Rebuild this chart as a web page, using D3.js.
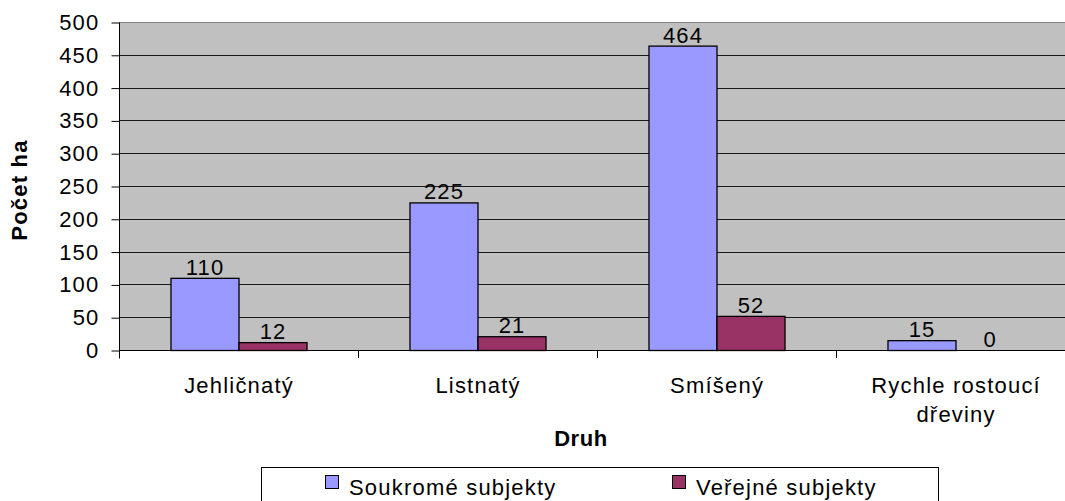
<!DOCTYPE html>
<html>
<head>
<meta charset="utf-8">
<script src="https://cdn.jsdelivr.net/npm/d3@7/dist/d3.min.js"></script>
<style>
  html, body { margin: 0; padding: 0; background: #fff; }
  svg { display: block; }
  text { font-family: "Liberation Sans", Arial, sans-serif; fill: #000; }
</style>
</head>
<body>
<svg id="chart" width="1065" height="501"></svg>
<script>
// Plocha porostů podle druhu dřevin (ha)
const categories = [["Jehličnatý"], ["Listnatý"], ["Smíšený"], ["Rychle rostoucí", "dřeviny"]];
const seriesNames = ["Soukromé subjekty", "Veřejné subjekty"];
const soukrome = [110, 225, 464, 15];
const verejne = [12, 21, 52, 0];
const yTicks = [0, 50, 100, 150, 200, 250, 300, 350, 400, 450, 500];
const seriesColors = ["#9999FF", "#993366"];

const FS = 22, LS = 1.2;

const svg = d3.select("#chart");
const plot = { left: 119, top: 22, bottom: 350, catWidth: 239 };
const catKeys = categories.map(c => c.join(" "));
const plotRight = plot.left + plot.catWidth * categories.length;

const x0 = d3.scaleBand().domain(catKeys).range([plot.left, plotRight]).padding(0);
const x1 = d3.scaleBand().domain(seriesNames).range([0, x0.bandwidth()])
  .paddingInner(0).paddingOuter(0.757);
const y = d3.scaleLinear().domain([0, 500]).range([plot.bottom, plot.top]);

// plot background
svg.append("rect")
  .attr("x", plot.left).attr("y", plot.top)
  .attr("width", plotRight - plot.left).attr("height", plot.bottom - plot.top)
  .attr("fill", "#C0C0C0");

// gridlines
svg.append("g").selectAll("line").data(yTicks.filter(t => t > 0)).join("line")
  .attr("x1", plot.left).attr("x2", plotRight)
  .attr("y1", d => Math.round(y(d)) + 0.5).attr("y2", d => Math.round(y(d)) + 0.5)
  .attr("stroke", d => d === 500 ? "#808080" : "#1a1a1a").attr("stroke-width", 1);

// y axis
const yAxis = d3.axisLeft(y).tickValues(yTicks).tickSize(8).tickPadding(12);
const gy = svg.append("g").attr("transform", `translate(${plot.left + 0.5},0.5)`).call(yAxis);
gy.select(".domain").attr("stroke", "#000").attr("d", `M0,${plot.top}V${plot.bottom + 8}`);
gy.selectAll(".tick line").attr("stroke", "#000");
gy.selectAll(".tick text")
  .attr("font-size", FS).attr("letter-spacing", LS)
  .attr("font-family", "Liberation Sans, Arial, sans-serif").attr("fill", "#000");

// x axis line and category boundary ticks
svg.append("line")
  .attr("x1", plot.left).attr("x2", plotRight)
  .attr("y1", plot.bottom + 0.5).attr("y2", plot.bottom + 0.5)
  .attr("stroke", "#000");
svg.append("g").selectAll("line").data(catKeys.slice(1)).join("line")
  .attr("x1", d => x0(d) + 0.5).attr("x2", d => x0(d) + 0.5)
  .attr("y1", plot.bottom).attr("y2", plot.bottom + 8)
  .attr("stroke", "#000");

// bars
const rows = catKeys.map((k, i) => ({ key: k, values: [soukrome[i], verejne[i]] }));
const groups = svg.append("g").selectAll("g").data(rows).join("g")
  .attr("transform", d => `translate(${x0(d.key)},0)`);

groups.selectAll("rect").data(d => d.values.map((v, j) => ({ s: seriesNames[j], v, j })))
  .join("rect")
  .filter(d => d.v > 0)
  .attr("x", d => x1(d.s) + 0.5)
  .attr("y", d => y(d.v) + 0.5)
  .attr("width", x1.bandwidth())
  .attr("height", d => y(0) - y(d.v))
  .attr("fill", d => seriesColors[d.j])
  .attr("stroke", "#000").attr("stroke-width", 1.3);

// value labels
groups.selectAll("text").data(d => d.values.map((v, j) => ({ s: seriesNames[j], v, j })))
  .join("text")
  .attr("x", d => x1(d.s) + x1.bandwidth() / 2 + LS / 2)
  .attr("y", d => y(d.v) - 3)
  .attr("text-anchor", "middle")
  .attr("font-size", FS).attr("letter-spacing", LS)
  .text(d => d.v);

// category labels
const catLabels = svg.append("g").selectAll("text").data(categories).join("text")
  .attr("x", (d, i) => x0(catKeys[i]) + x0.bandwidth() / 2 + LS / 2)
  .attr("y", 393)
  .attr("text-anchor", "middle")
  .attr("font-size", FS).attr("letter-spacing", LS);
catLabels.selectAll("tspan").data(d => d).join("tspan")
  .attr("x", function () { return this.parentNode.getAttribute("x"); })
  .attr("dy", (d, i) => i === 0 ? 0 : 29)
  .text(d => d);

// axis titles
svg.append("text")
  .attr("x", 581).attr("y", 446)
  .attr("text-anchor", "middle")
  .attr("font-size", FS).attr("font-weight", "bold").attr("letter-spacing", 0.6)
  .text("Druh");

svg.append("text")
  .attr("transform", "translate(27,190) rotate(-90)")
  .attr("text-anchor", "middle")
  .attr("font-size", FS).attr("font-weight", "bold").attr("letter-spacing", 1.2)
  .text("Počet ha");

// legend
const legend = svg.append("g");
legend.append("rect")
  .attr("x", 261.5).attr("y", 467.5).attr("width", 677).attr("height", 50)
  .attr("fill", "#fff").attr("stroke", "#000");
const legendX = [325, 672];
const li = legend.selectAll("g.item").data(seriesNames).join("g").attr("class", "item")
  .attr("transform", (d, i) => `translate(${legendX[i]},0)`);
li.append("rect")
  .attr("x", 0.5).attr("y", 475.5).attr("width", 13).attr("height", 13)
  .attr("fill", (d, i) => seriesColors[i]).attr("stroke", "#000");
li.append("text")
  .attr("x", 24).attr("y", 495)
  .attr("font-size", FS).attr("letter-spacing", LS)
  .text(d => d);
</script>
</body>
</html>
